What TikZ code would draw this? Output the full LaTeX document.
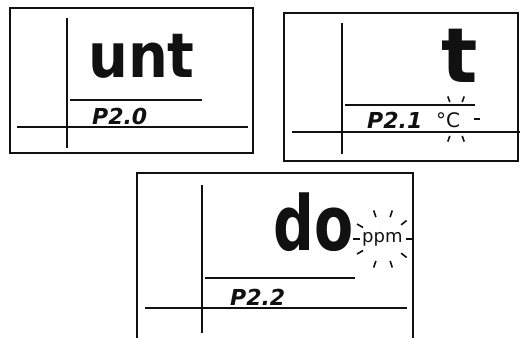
\documentclass[tikz,border=0pt]{standalone}
\usepackage{fontspec}
\usepackage{graphicx}
\setmainfont{DejaVu Sans}
\definecolor{ink}{HTML}{111111}

\begin{document}
\begin{tikzpicture}[x=1pt,y=-1pt,
  frame/.style={draw=ink,line width=2pt},
  rule/.style={draw=ink,line width=1.7pt},
  seg/.style={inner sep=0pt,anchor=base west,text=ink,font=\bfseries\fontsize{56}{56}\selectfont},
  code/.style={inner sep=0pt,anchor=base west,text=ink,font=\bfseries\itshape\fontsize{22}{22}\selectfont},
  unit/.style={inner sep=0pt,anchor=base west,text=ink,font=\fontsize{18}{18}\selectfont},
  blink/.style={draw=ink,line width=1.6pt},
]
  \useasboundingbox (0,0) rectangle (520,338);

  % panel P2.0
  \draw[frame] (10,8) rectangle (253,153);
  \draw[rule] (67,18) -- (67,148);
  \draw[rule] (70,100) -- (202,100);
  \draw[rule] (17,127) -- (248,127);
  \node[seg] (unt) at (88,77) {\scalebox{1}[1.1]{unt}};
  \node[code] (p20) at (92,124) {P2.0};

  % panel P2.1
  \draw[frame] (284,13) rectangle (518,161);
  \draw[rule] (342,23) -- (342,154);
  \draw[rule] (345,105) -- (475,105);
  \draw[rule] (292,132) -- (520,132);
  \node[seg,font=\bfseries\fontsize{76}{76}\selectfont] (t) at (441,82) {t};
  \node[code] (p21) at (367,128) {P2.1};
  \node[unit,font=\fontsize{20}{20}\selectfont] (degc) at (436,127) {°C};
  \coordinate (degblink) at (456,119);
  \foreach \a in {0,70,110,250,290}
    \draw[blink,shift={(degblink)}] (\a:18) -- (\a:24);

  % panel P2.2
  \draw[frame] (413,338) -- (413,173) -- (137,173) -- (137,338);
  \draw[rule] (202,185) -- (202,333);
  \draw[rule] (205,278) -- (355,278);
  \draw[rule] (145,308) -- (407,308);
  \node[seg,font=\bfseries\fontsize{76}{76}\selectfont] (do) at (273,250) {\scalebox{0.75}[1]{do}};
  \node[code] (p22) at (230,305) {P2.2};
  \node[unit] (ppm) at (362,242) {ppm};
  \coordinate (ppmblink) at (383,239);
  \foreach \a in {0,38,72,108,150,180,210,252,288,322}
    \draw[blink,shift={(ppmblink)}] (\a:23) -- (\a:30);
\end{tikzpicture}
\end{document}
